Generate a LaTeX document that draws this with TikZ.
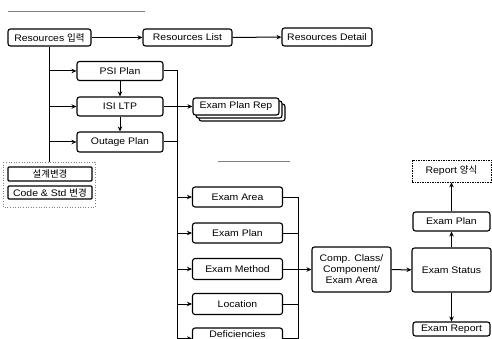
\documentclass[tikz,border=0pt]{standalone}
\usepackage{fontspec}
\setmainfont[FakeStretch=1.1]{Liberation Sans}
\newfontfamily\kr{Noto Sans CJK KR}
\usetikzlibrary{arrows.meta,shadows}
\begin{document}
\begin{tikzpicture}[x=1pt,y=-1pt,
  box/.style={draw, rounded corners=2.5pt, line width=1.1pt, fill=white,
    font=\fontsize{9.5}{11}\selectfont, align=center, inner sep=1pt},
  conn/.style={line width=1pt},
  arr/.style={line width=1pt, -{Stealth[length=5pt,width=4.5pt]}},
  faint/.style={line width=0.6pt, gray}]
\useasboundingbox (0,0) rectangle (492,339);
\clip (0,0) rectangle (492,339);
% faint title lines
\draw[faint] (8,11) -- (145,11);
\draw[faint] (218,161) -- (290,161);
% top row
\node[box, minimum width=83pt, minimum height=17pt] (ri) at (49.5,37.5) {Resources {\kr 입력}};
\node[box, minimum width=89pt, minimum height=17pt] (rl) at (187.5,37.5) {Resources List};
\node[box, minimum width=90pt, minimum height=18pt] (rd) at (327,37) {Resources Detail};
% plans
\node[box, minimum width=86pt, minimum height=19pt] (psi) at (120,71) {PSI Plan};
\node[box, minimum width=86pt, minimum height=19pt] (isi) at (120,106.5) {ISI LTP};
\node[box, minimum width=86pt, minimum height=20pt] (out) at (120,142) {Outage Plan};
\node[box, minimum width=86pt, minimum height=17pt,
  double copy shadow={shadow xshift=3pt, shadow yshift=-3pt, draw, line width=1.1pt, fill=white}] (epr) at (236,106.5) {Exam Plan Rep};
% korean boxes
\draw[gray, dotted, line width=0.6pt] (3,162) rectangle (95,207);
\node[box, rounded corners=1pt, line width=1.3pt, minimum width=84pt, minimum height=14pt] (kr1) at (50,174) {\kr 설계변경};
\node[box, rounded corners=1pt, line width=1.3pt, minimum width=84pt, minimum height=13pt] (kr2) at (50,192.5) {Code \& Std {\kr 변경}};
% exam column
\node[box, minimum width=90pt, minimum height=20pt] (ea) at (237.5,197) {Exam Area};
\node[box, minimum width=90pt, minimum height=20pt] (ep) at (237.5,233) {Exam Plan};
\node[box, minimum width=90pt, minimum height=21pt] (em) at (237.5,269) {Exam Method};
\node[box, minimum width=90pt, minimum height=21pt] (loc) at (237.5,304) {Location};
\node[box, minimum width=90pt, minimum height=21pt] (def) at (237.5,338.5) {};
\node[font=\fontsize{9.5}{11}\selectfont, anchor=base, inner sep=0pt] (deft) at (237.5,337.8) {Deficiencies};
% right part
\node[box, minimum width=79pt, minimum height=45pt] (comp) at (351.5,269.5) {Comp. Class/\\Component/\\Exam Area};
\node[box, minimum width=79pt, minimum height=44pt] (es) at (451.5,270) {Exam Status};
\node[box, minimum width=77pt, minimum height=19pt] (ep2) at (451.5,221.5) {Exam Plan};
\node[box, dashed, dash pattern=on 1.5pt off 1pt, line width=0.7pt, rounded corners=0pt, minimum width=79pt, minimum height=22pt] (rep) at (451.5,171) {Report {\kr 양식}};
\node[box, minimum width=77pt, minimum height=14pt] (er) at (451.5,329) {Exam Report};
% coordinates
\coordinate (lt) at (49.5,162);
\coordinate (rt) at (177,71);
\coordinate (rb) at (177,338.5);
\coordinate (mt) at (298,197);
\coordinate (mb) at (298,338.5);
% connectors top
\draw[arr] (ri) -- (rl);
\draw[arr] (rl) -- (rd);
% left trunk
\draw[conn] (ri.south) -- (lt);
\draw[arr] (ri.south |- psi) -- (psi.west);
\draw[arr] (ri.south |- isi) -- (isi.west);
\draw[arr] (ri.south |- out) -- (out.west);
\draw[arr] (psi) -- (isi);
\draw[arr] (isi) -- (out);
% right trunk
\draw[conn] (psi.east) -- (rt) -- (rb);
\draw[conn] (out.east) -- (rt |- out);
\draw[arr] (isi.east) -- (epr.west);
\draw[arr] (rt |- ea) -- (ea.west);
\draw[arr] (rt |- ep) -- (ep.west);
\draw[arr] (rt |- em) -- (em.west);
\draw[arr] (rt |- loc) -- (loc.west);
\draw[arr] (rt |- def) -- (def.west);
% merge
\draw[conn] (ea.east) -- (mt) -- (mb);
\draw[conn] (ep.east) -- (mt |- ep);
\draw[conn] (em.east) -- (mt |- em);
\draw[conn] (loc.east) -- (mt |- loc);
\draw[conn] (def.east) -- (mt |- def);
\draw[arr] (mt |- comp) -- (comp.west);
\draw[arr] (comp) -- (es);
\draw[arr] (es) -- (ep2);
\draw[arr] (ep2) -- (rep);
\draw[arr] (es) -- (er);
\end{tikzpicture}
\end{document}
